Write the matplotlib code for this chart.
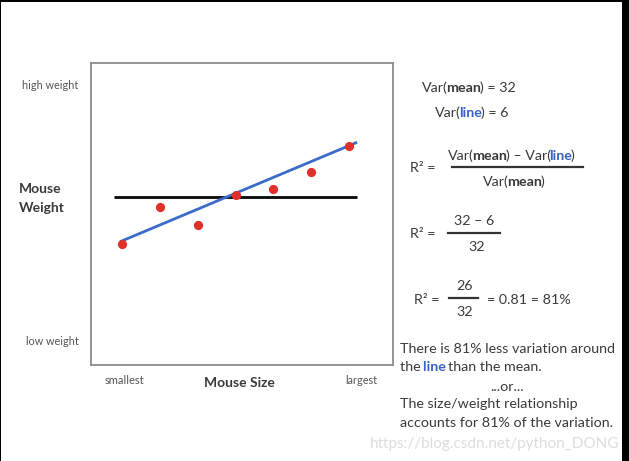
#!/usr/bin/env python3

import matplotlib
matplotlib.use("Agg")
import matplotlib.pyplot as plt
from matplotlib.patches import Rectangle
from matplotlib.lines import Line2D

mouse_size = [1, 2, 3, 4, 5, 6, 7]
mouse_weight = [6.7, 9.3, 8.0, 10.15, 10.6, 11.8, 13.7]
mean_x = [0.80, 7.20]
mean_y = [10.0, 10.0]
fit_x = [0.96, 7.20]
fit_y = [6.84, 13.94]

W, H = 629, 461
GREY = "#555555"
BLUE = "#3a62c4"
DARK = "#3a3a3a"
BODY = 10.3

plt.rcParams["font.family"] = ["Lato", "DejaVu Sans"]

fig = plt.figure(figsize=(W / 100, H / 100), dpi=100, facecolor="white")

# plot box, 91-393 x 63-365 in pixels
ax = fig.add_axes([91 / W, 1 - 365 / H, 302 / W, 302 / H])
ax.set_xlim(0.197, 8.145)
ax.set_ylim(-1.96, 19.6)
ax.set_xticks([])
ax.set_yticks([])
for s in ax.spines.values():
    s.set_color("#8c8c8c")
    s.set_linewidth(1.3)

ax.plot(mean_x, mean_y, color="#111111", lw=2.1, solid_capstyle="butt", zorder=2)
ax.plot(fit_x, fit_y, color="#3b6bc8", lw=2.0, solid_capstyle="butt", zorder=3)
ax.scatter(mouse_size, mouse_weight, s=44, color="#e0302a", zorder=4, linewidths=0)


def text(x, y, s, size=BODY, color=DARK, weight="normal", ha="left"):
    return fig.text(x / W, 1 - y / H, s, fontsize=size, color=color,
                    fontweight=weight, ha=ha, va="baseline")


def runs(x, y, parts, size=BODY):
    # mixed bold / coloured pieces on one baseline
    r = fig.canvas.get_renderer()
    for s, color, weight in parts:
        t = text(x, y, s, size=size, color=color, weight=weight)
        t.set_text(s.replace(" ", "\u00a0"))
        # extent runs a bit wide, pull the next piece back
        x += t.get_window_extent(r).width - 1.5


def hbar(x0, x1, y, lw=1.6):
    fig.add_artist(Line2D([x0 / W, x1 / W], [1 - y / H, 1 - y / H], color="#333333", lw=lw))


# axis text
text(22, 89, "high weight", size=7.8, color=GREY)
text(26, 345, "low weight", size=7.8, color=GREY)
text(105, 384, "smallest", size=8, color=GREY)
text(345, 384, "largest", size=7.8, color=GREY)
text(19, 193, "Mouse", size=10, weight="bold")
text(19, 212, "Weight", size=10, weight="bold")
text(204, 387, "Mouse Size", size=10, weight="bold")

# right hand formulas
runs(422, 92, [("Var(", DARK, "normal"), ("mean", DARK, "bold"), (") = 32", DARK, "normal")])
runs(435, 117, [("Var(", DARK, "normal"), ("line", BLUE, "bold"), (") = 6", DARK, "normal")])

text(410, 172, "R² =")
runs(448, 160, [("Var(", DARK, "normal"), ("mean", DARK, "bold"), (") – Var(", DARK, "normal"),
                ("line", BLUE, "bold"), (")", DARK, "normal")])
hbar(452, 583, 167)
runs(483, 186, [("Var(", DARK, "normal"), ("mean", DARK, "bold"), (")", DARK, "normal")])

text(410, 238, "R² =")
text(454, 225, "32 – 6")
hbar(448, 500, 233)
text(468, 251, "32")

text(414, 304, "R² =")
text(456, 290, "26")
hbar(449, 478, 298)
text(456, 316, "32")
text(487, 304, "= 0.81 = 81%")

text(400, 353, "There is 81% less variation around")
runs(400, 371, [("the ", DARK, "normal"), ("line ", BLUE, "bold"), ("than the mean.", DARK, "normal")])
text(507, 391, "...or...", ha="center")
text(400, 408, "The size/weight relationship")
text(400, 427, "accounts for 81% of the variation.")

# watermark
text(370, 448, "https://blog.csdn.net/python_DONG", size=11, color="#dcdcdc")

# black screen edges
for x, y, w, h in [(0, 0, W, 2), (0, 0, 1, H), (622, 0, 7, H)]:
    fig.add_artist(Rectangle((x / W, 1 - (y + h) / H), w / W, h / H,
                             transform=fig.transFigure, color="black", lw=0))

fig.savefig("out.png", dpi=100)
